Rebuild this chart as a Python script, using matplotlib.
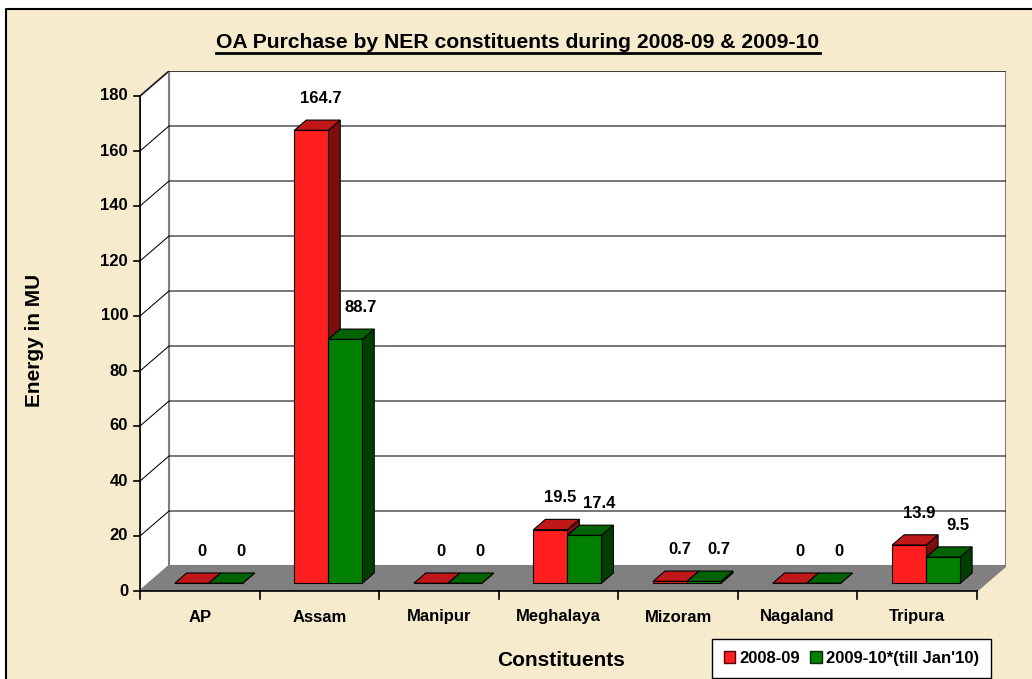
import matplotlib
matplotlib.use('Agg')
import matplotlib.pyplot as plt
from matplotlib.patches import Polygon, Rectangle, Patch
from matplotlib.lines import Line2D

# ---------------- data ----------------
categories = ['AP', 'Assam', 'Manipur', 'Meghalaya', 'Mizoram', 'Nagaland', 'Tripura']
series_names = ['2008-09', "2009-10*(till Jan'10)"]
vals_0809 = [0, 164.7, 0, 19.5, 0.7, 0, 13.9]
vals_0910 = [0, 88.7, 0, 17.4, 0.7, 0, 9.5]
label_0809 = ['0', '164.7', '0', '19.5', '0.7', '0', '13.9']
label_0910 = ['0', '88.7', '0', '17.4', '0.7', '0', '9.5']
yticks = [0, 20, 40, 60, 80, 100, 120, 140, 160, 180]
title = 'OA Purchase by NER constituents during 2008-09 & 2009-10'
xlabel = 'Constituents'
ylabel = 'Energy in MU'

# ---------------- style ----------------
FONT = 'Liberation Sans'
plt.rcParams['font.family'] = [FONT, 'DejaVu Sans']
plt.rcParams['font.weight'] = 'bold'

W, H = 1032, 679
fig = plt.figure(figsize=(W / 100, H / 100), dpi=100)
fig.patch.set_facecolor('white')

BG = '#F7EBCD'
fig.add_artist(Rectangle((6 / W, 0), 1, 1 - 9 / H, transform=fig.transFigure,
                         facecolor=BG, edgecolor='none', zorder=-10))
fig.add_artist(Line2D([6 / W, 6 / W, 1], [0, 1 - 9 / H, 1 - 9 / H],
                      transform=fig.transFigure, color='black', lw=1.5, zorder=-5))

# geometry of the pseudo-3D plot
ymax = yticks[-1]
n = len(categories)
left_px, front_right_px = 140, 977
bot_px, top_front_px = 591, 96
depth_px = (29, 25)
PX_CAT = (front_right_px - left_px) / n
PX_VAL = (bot_px - top_front_px) / ymax
DX = depth_px[0] / PX_CAT
DY = depth_px[1] / PX_VAL

ax = fig.add_axes([left_px / W, (H - bot_px) / H,
                   (front_right_px + depth_px[0] - left_px) / W,
                   (bot_px - top_front_px + depth_px[1]) / H])
ax.set_xlim(-0.5, n - 0.5 + DX)
ax.set_ylim(0, ymax + DY)
ax.axis('off')

xl, xr = -0.5, n - 0.5
WALL_EDGE = '#808080'
# back wall
ax.add_patch(Polygon([(xl + DX, DY), (xr + DX, DY), (xr + DX, ymax + DY), (xl + DX, ymax + DY)],
                     closed=True, facecolor='white', edgecolor=WALL_EDGE, lw=1.5, zorder=1))
# side wall
ax.add_patch(Polygon([(xl, 0), (xl + DX, DY), (xl + DX, ymax + DY), (xl, ymax)],
                     closed=True, facecolor='white', edgecolor=WALL_EDGE, lw=1.5, zorder=1))
# gridlines
for t in yticks[1:]:
    ax.plot([xl, xl + DX, xr + DX], [t, t + DY, t + DY], color='black', lw=0.75, zorder=2,
            solid_capstyle='butt')
# floor
ax.add_patch(Polygon([(xl, 0), (xr, 0), (xr + DX, DY), (xl + DX, DY)],
                     closed=True, facecolor='#808080', edgecolor='#808080', lw=1, zorder=3))

# front axes lines
ax.plot([xl, xl], [0, ymax], color='black', lw=1.2, zorder=6, clip_on=False)
ax.plot([xl, xr], [0, 0], color='black', lw=1.2, zorder=6, clip_on=False)
tick_len_x = 6 / PX_CAT
for t in yticks:
    ax.plot([xl - tick_len_x, xl], [t, t], color='black', lw=1.2, clip_on=False, zorder=6)
    ax.text(xl - 12 / PX_CAT, t, str(t), ha='right', va='center', fontsize=12,
            fontweight='bold', clip_on=False)
tick_len_y = 8 / PX_VAL
for k in range(n + 1):
    ax.plot([xl + k, xl + k], [0, -tick_len_y], color='black', lw=1.2, clip_on=False, zorder=6)
for i, c in enumerate(categories):
    ax.text(i, -26 / PX_VAL, c, ha='center', va='center', fontsize=12,
            fontweight='bold', clip_on=False)

# bars
bar_w = 34 / PX_CAT
f0, f1 = 0.31, 0.72
d = f1 - f0
styles = [
    dict(front='#FF1F1F', top='#C01818', side='#7E0E0E'),
    dict(front='#008000', top='#006200', side='#003F00'),
]
series = [vals_0809, vals_0910]
labels = [label_0809, label_0910]
for i in range(n):
    for s in range(2):
        v = series[s][i]
        st = styles[s]
        x0 = i - bar_w + s * bar_w + f0 * DX
        x1 = x0 + bar_w
        yb = f0 * DY
        yt = yb + v
        z = 10 + i * 3 + s
        ax.add_patch(Polygon([(x1, yb), (x1 + d * DX, yb + d * DY), (x1 + d * DX, yt + d * DY), (x1, yt)],
                             closed=True, facecolor=st['side'], edgecolor='black', lw=0.8, zorder=z))
        ax.add_patch(Polygon([(x0, yt), (x1, yt), (x1 + d * DX, yt + d * DY), (x0 + d * DX, yt + d * DY)],
                             closed=True, facecolor=st['top'], edgecolor='black', lw=0.8, zorder=z))
        ax.add_patch(Polygon([(x0, yb), (x1, yb), (x1, yt), (x0, yt)],
                             closed=True, facecolor=st['front'], edgecolor='black', lw=0.8, zorder=z))
        ax.text((x0 + x1) / 2 + d * DX / 2 + (4 + 5 * s) / PX_CAT, yt + d * DY + 14 / PX_VAL,
                labels[s][i], ha='center', va='bottom', fontsize=12, fontweight='bold', zorder=40)

# titles
tt = fig.text(518 / W, 1 - 42 / H, title, ha='center', va='center', fontsize=15.2, fontweight='bold')
fig.text(35 / W, 1 - 340 / H, ylabel, ha='center', va='center', rotation=90, fontsize=15,
         fontweight='bold')
fig.text(561 / W, 1 - 660 / H, xlabel, ha='center', va='center', fontsize=15, fontweight='bold')

fig.canvas.draw()
bb = tt.get_window_extent(renderer=fig.canvas.get_renderer())
uy = bb.y0 - 1
fig.add_artist(Line2D([bb.x0 / W, bb.x1 / W], [uy / H, uy / H], transform=fig.transFigure,
                      color='black', lw=2))

handles = [Patch(facecolor=styles[0]['front'], edgecolor='#5a0000', lw=1),
           Patch(facecolor=styles[1]['front'], edgecolor='#002a00', lw=1)]
leg = fig.legend(handles, series_names, loc='center', bbox_to_anchor=(851.5 / W, 1 - 658.5 / H),
                 ncol=2, frameon=True, fancybox=False, framealpha=1, edgecolor='black',
                 prop={'size': 12, 'weight': 'bold', 'family': FONT},
                 handlelength=0.7, handleheight=0.7, handletextpad=0.25, columnspacing=0.6,
                 borderpad=0.72, borderaxespad=0)
leg.get_frame().set_linewidth(1.0)

fig.savefig('out.png', dpi=100, facecolor=fig.get_facecolor())
